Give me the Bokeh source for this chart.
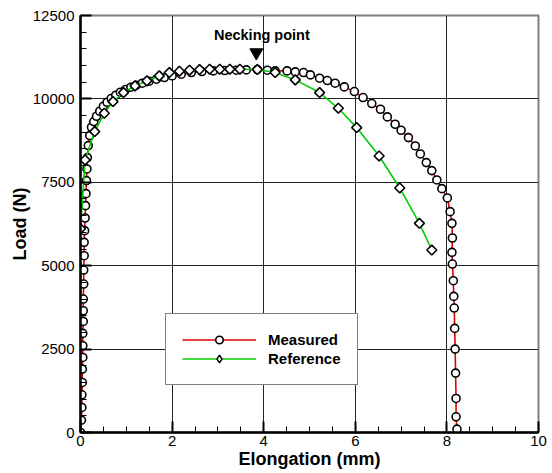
from bokeh.plotting import figure
from bokeh.models import Range1d, FixedTicker, Legend, LegendItem, Label
from bokeh.embed import file_html
from bokeh.resources import INLINE
import numpy as np

# Tensile test: load vs. elongation
measured_x = [0.00, 0.02, 0.03, 0.03, 0.04, 0.04, 0.05, 0.05, 0.05, 0.06, 0.06, 0.06,
              0.07, 0.07, 0.08, 0.08, 0.09, 0.10, 0.11, 0.12, 0.13, 0.14, 0.15, 0.17,
              0.20, 0.24, 0.29, 0.35, 0.42, 0.50, 0.58, 0.67, 0.77, 0.87, 0.98, 1.10,
              1.22, 1.35, 1.50, 1.66, 1.83, 2.00, 2.20, 2.42, 2.65, 2.90, 3.15, 3.40,
              3.62, 3.86, 4.08, 4.25, 4.51, 4.69, 4.87, 5.02, 5.22, 5.39, 5.56, 5.76,
              5.98, 6.17, 6.36, 6.55, 6.70, 6.87, 7.00, 7.16, 7.31, 7.42, 7.55, 7.67,
              7.78, 7.89, 8.01, 8.07, 8.11, 8.12, 8.11, 8.12, 8.14, 8.15, 8.16, 8.17,
              8.18, 8.19, 8.20, 8.20, 8.22]
measured_load = [0, 370, 750, 1130, 1500, 1900, 2250, 2600, 2970, 3330, 3650, 4000,
                 4450, 4870, 5300, 5700, 6050, 6430, 6800, 7160, 7550, 7900, 8240, 8600,
                 8900, 9150, 9320, 9480, 9630, 9780, 9900, 10010, 10110, 10200, 10280, 10350,
                 10410, 10470, 10530, 10590, 10640, 10690, 10740, 10790, 10820, 10840, 10850, 10860,
                 10870, 10880, 10860, 10840, 10840, 10810, 10790, 10720, 10620, 10550, 10470, 10360,
                 10220, 10040, 9860, 9690, 9460, 9240, 9060, 8840, 8590, 8350, 8090, 7850,
                 7570, 7310, 7030, 6620, 6270, 5830, 5400, 5050, 4550, 4080, 3730, 3120,
                 2500, 1780, 1020, 470, 100]

reference_x = [0.00, 0.10, 0.31, 0.52, 0.71, 0.94, 1.19, 1.45, 1.72, 1.94, 2.16, 2.38,
               2.60, 2.82, 3.04, 3.26, 3.48, 3.86, 4.25, 4.69, 5.22, 5.63, 6.03, 6.52,
               6.97, 7.40, 7.67]
reference_load = [6110, 8170, 9020, 9570, 9920, 10190, 10390, 10540, 10690, 10790, 10830, 10860,
                  10880, 10890, 10890, 10890, 10890, 10880, 10790, 10570, 10190, 9720, 9140, 8290,
                  7330, 6270, 5470]

x_ticks = [0, 2, 4, 6, 8, 10]
y_ticks = [0, 2500, 5000, 7500, 10000, 12500]

necking_x = 3.84
necking_marker_load = 11390
necking_text_x = 3.96
necking_text_load = 11930

FONT = "Liberation Sans"

p = figure(width=552, height=473, output_backend="svg", toolbar_location=None,
           x_range=Range1d(0, 10), y_range=Range1d(0, 12500),
           min_border_left=80, min_border_right=14, min_border_top=15,
           min_border_bottom=41, background_fill_color="white",
           border_fill_color="white")

p.xaxis.ticker = FixedTicker(ticks=x_ticks, minor_ticks=list(np.arange(0, 10.01, 0.5)))
p.yaxis.ticker = FixedTicker(ticks=y_ticks, minor_ticks=list(np.arange(0, 12501, 500)))

for ax in (p.xaxis[0], p.yaxis[0]):
    ax.axis_line_color = "black"
    ax.axis_line_width = 2.5
    ax.major_tick_in = 11
    ax.major_tick_out = 0
    ax.major_tick_line_width = 2
    ax.major_tick_line_color = "black"
    ax.minor_tick_in = 6
    ax.minor_tick_out = 0
    ax.minor_tick_line_width = 1
    ax.minor_tick_line_color = "black"
    ax.major_label_text_font = FONT
    ax.major_label_text_font_size = "15px"
    ax.major_label_text_color = "black"
    ax.axis_label_text_font = FONT
    ax.axis_label_text_font_style = "bold"
    ax.axis_label_text_font_size = "18px"
    ax.axis_label_text_color = "black"
    ax.axis_label_standoff = 0

p.xaxis.major_label_standoff = 3
p.yaxis.major_label_standoff = 6
p.xaxis.axis_label = "Elongation (mm)"
p.yaxis.axis_label = "Load (N)"

p.grid.grid_line_color = "#222222"
p.grid.grid_line_width = 1
p.outline_line_color = "#808080"
p.outline_line_width = 2

# Measured curve
m_line = p.line(measured_x, measured_load, line_color="#e00000", line_width=1.6)
m_pts = p.scatter(measured_x, measured_load, marker="circle", size=8,
                  fill_color="white", line_color="black", line_width=1.6)

# Reference curve
r_line = p.line(reference_x, reference_load, line_color="#00cc00", line_width=1.6)
# plain diamonds: used as the legend swatch (legend glyphs are drawn unrotated),
# fully covered by the turned squares drawn on top of them
r_key = p.scatter(reference_x, reference_load, marker="diamond", size=8,
                  fill_color="white", line_color="black", line_width=1.4)
r_pts = p.scatter(reference_x, reference_load, marker="square", size=7, angle=np.pi / 4,
                  fill_color="white", line_color="black", line_width=1.6)

# Necking point annotation
p.scatter([necking_x], [necking_marker_load], marker="inverted_triangle", size=13,
          fill_color="black", line_color="black")
p.add_layout(Label(x=necking_text_x, y=necking_text_load, text="Necking point",
                   text_align="center", text_baseline="alphabetic", text_font=FONT,
                   text_font_style="bold", text_font_size="14.5px", text_color="black"))

legend = Legend(items=[LegendItem(label="Measured", renderers=[m_line, m_pts]),
                       LegendItem(label="Reference", renderers=[r_line, r_key])],
                location=(85, 47), glyph_width=74, glyph_height=19, label_height=19,
                spacing=0, padding=16, label_standoff=12, margin=0,
                border_line_color="black", border_line_width=1,
                background_fill_color="white", background_fill_alpha=1,
                label_text_font=FONT, label_text_font_style="bold",
                label_text_font_size="15px", label_text_color="black")
p.add_layout(legend)

open("out.html", "w").write(file_html(p, INLINE))
